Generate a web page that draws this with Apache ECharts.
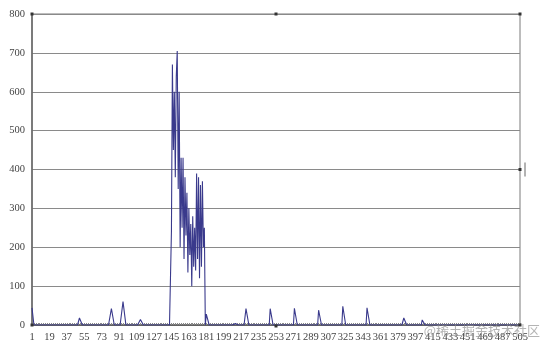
<!DOCTYPE html>
<html>
<head>
<meta charset="utf-8">
<script src="https://cdn.jsdelivr.net/npm/echarts@6/dist/echarts.min.js"></script>
<style>
html,body{margin:0;padding:0;background:#fff;}
#c{width:550px;height:349px;}
</style>
</head>
<body>
<div id="c"></div>
<script>
// ---- data ----
const categoryCount = 505;            // categories 1..505
const labelStep = 18;                 // tick labels 1, 19, 37, ... 505
const yTicks = [0, 100, 200, 300, 400, 500, 600, 700, 800];

// small plateau bumps along the baseline: category -> value
const bumpCats = [1, 2,
                  50, 51, 52, 83, 84, 85, 95, 96, 97, 113, 114, 115,
                  181, 182, 183, 209, 210, 211,
                  222, 223, 224, 247, 248, 249, 272, 273, 274, 297, 298, 299,
                  322, 323, 324, 347, 348, 349, 385, 386, 387, 404, 405, 406];
const bumpVals = [44, 42,
                  18, 20, 19, 42, 44, 43, 60, 62, 61, 14, 15, 14,
                  28, 28, 26, 4, 5, 4,
                  42, 44, 43, 42, 43, 42, 43, 43, 42, 38, 38, 37,
                  48, 50, 49, 44, 45, 44, 18, 19, 18, 13, 13, 12];

// the large burst, starting at category 145
const spikeStart = 145;
const spikeVals = [240, 670, 450, 600, 380, 640, 705, 350, 600, 200,
                   430, 250, 430, 170, 380, 230, 340, 135, 300, 180,
                   260, 100, 280, 150, 250, 140, 390, 170, 380, 120,
                   360, 150, 370, 200, 250];

// ---- build series ----
const categories = [];
const values = [];
for (let i = 1; i <= categoryCount; i++) { categories.push(String(i)); values.push(0); }
bumpCats.forEach((c, k) => { values[c - 1] = bumpVals[k]; });
spikeVals.forEach((v, k) => { values[spikeStart - 1 + k] = v; });

const chart = echarts.init(document.getElementById('c'), null, {renderer: 'canvas'});
const labelFont = {fontFamily: 'Liberation Serif', fontSize: 10.5, color: '#444'};

chart.setOption({
  animation: false,
  backgroundColor: '#fff',
  grid: {left: 32, right: 30, top: 14, bottom: 24, containLabel: false,
         show: true, borderColor: '#7a7a7a', borderWidth: 1},
  xAxis: {
    type: 'category',
    data: categories,
    boundaryGap: false,
    axisLine: {lineStyle: {color: '#555', width: 1.5}},
    axisTick: {show: true, interval: 1, length: 2, inside: true, lineStyle: {color: '#888'}},
    axisLabel: Object.assign({interval: labelStep - 1, margin: 7}, labelFont),
    splitLine: {show: false}
  },
  yAxis: {
    type: 'value',
    min: yTicks[0],
    max: yTicks[yTicks.length - 1],
    interval: 100,
    axisLine: {show: true, lineStyle: {color: '#666', width: 1.5}},
    axisTick: {show: false},
    axisLabel: Object.assign({margin: 7}, labelFont),
    splitLine: {lineStyle: {color: '#8a8a8a', width: 1}}
  },
  series: [{
    type: 'line',
    data: values,
    symbol: 'none',
    lineStyle: {color: '#3a3a8c', width: 1.1},
    z: 3
  }]
});

// selection handles around the plot area (decoration)
const p0 = chart.convertToPixel({xAxisIndex: 0, yAxisIndex: 0}, ['1', 0]);
const p1 = chart.convertToPixel({xAxisIndex: 0, yAxisIndex: 0}, [String(categoryCount), 800]);
const xm = (p0[0] + p1[0]) / 2, ym = (p0[1] + p1[1]) / 2;
const handles = [[p0[0], p1[1]], [xm, p1[1]], [p1[0], p1[1]], [p1[0], ym],
                 [p1[0], p0[1]], [xm, p0[1] + 1], [p0[0], p0[1]]];
const g = handles.map(h => ({type: 'rect', shape: {x: h[0] - 1.5, y: h[1] - 1.5, width: 3, height: 3},
                            style: {fill: '#333'}, z: 20}));
g.push({type: 'line', shape: {x1: p1[0] + 5, y1: ym - 7, x2: p1[0] + 5, y2: ym + 7},
        style: {stroke: '#666', lineWidth: 1}, z: 20});
g.unshift({type: 'text', right: 10, bottom: 12,
           style: {text: '@稀土掘金技术社区', fontFamily: 'Noto Sans CJK SC', fontSize: 13,
                   fill: 'rgba(140,140,140,0.65)'}, z: 10});
chart.setOption({graphic: g});
</script>
</body>
</html>
